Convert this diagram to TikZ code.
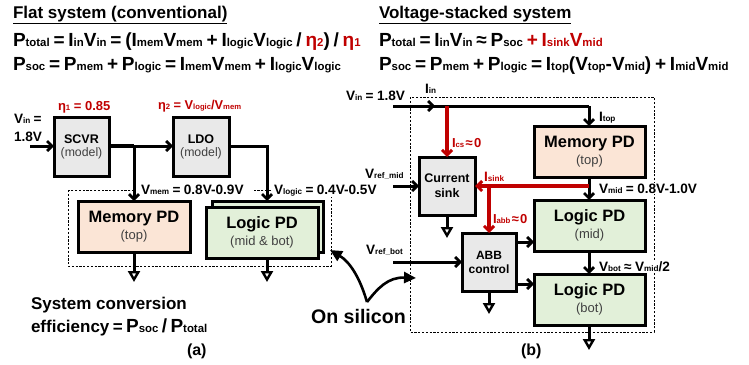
\documentclass[tikz,border=0pt]{standalone}
\usepackage{fontspec}
\setmainfont{Liberation Sans}
\usetikzlibrary{arrows.meta,calc}
\definecolor{rd}{HTML}{C00000}
\definecolor{gbox}{HTML}{E9E9E9}
\definecolor{pbox}{HTML}{FBE5D6}
\definecolor{lbox}{HTML}{E2F0D9}
\definecolor{sub}{HTML}{404040}
\makeatletter
\newcommand\ssb[1]{{\fontsize{\strip@pt\dimexpr0.6\dimexpr\f@size pt\relax\relax}{1}\selectfont #1}}
\makeatother
\newcommand\fs[1]{\fontsize{#1}{#1}\selectfont}
\newcommand\eqf{\bfseries\fs{19}\spaceskip=.2em\relax}
\newcommand\lbf{\bfseries\fs{13.6}\spaceskip=.25em\relax}
\newcommand\rlbf{\bfseries\fs{13}\spaceskip=.1em\relax}
\newcommand\sysf{\bfseries\fs{17}\spaceskip=.2em\relax}
\tikzset{
  x=1pt,y=-1pt,
  txt/.style={anchor=base west,inner sep=0pt,outer sep=0pt,font=\bfseries},
  wtxt/.style={txt,fill=white,inner xsep=2pt,inner ysep=1pt},
  box/.style={draw=black,line width=3pt,inner sep=0pt,outer sep=0pt,align=center},
  wire/.style={line width=3pt,draw=black},
  tip/.style={-{Straight Barb[length=5pt,width=10pt,line width=2.8pt]}},
  rwire/.style={line width=3.2pt,draw=rd},
  rtip/.style={-{Straight Barb[length=5pt,width=10pt,line width=3pt]}},
  gnd/.style={line width=3pt,draw=black,-{Triangle[open,length=11pt,width=12pt,line width=2.4pt]}},
  dash box/.style={draw=black,line width=1pt,dash pattern=on 2.2pt off 1.6pt},
}
\newcommand\boxlab[2]{{\bfseries\fs{#2}#1}}
\newcommand\sublab[2]{{\fs{#2}\color{sub}#1}}
\begin{document}
\begin{tikzpicture}
\useasboundingbox (0,0) rectangle (749,364);
% dashed regions
\draw[dash box] (68,190) rectangle (331,266);
\draw[dash box] (410,97) rectangle (654,332);
% labels that interrupt the dashed regions
\node[wtxt,font=\lbf,inner xsep=8pt] (la5) at (133,194) {V\ssb{mem} = 0.8V-0.9V};
\node[wtxt,font=\lbf] (la6) at (272,194) {V\ssb{logic} = 0.4V-0.5V};
\node[wtxt,font=\lbf] (lb9) at (597,193) {V\ssb{mid} = 0.8V-1.0V};
\node[wtxt,font=\lbf] (lb10) at (597,271) {V\ssb{bot} ≈ V\ssb{mid}/2};
% headings
\node[txt,font=\bfseries\fs{17}] (t1) at (13,18) {\underline{Flat system (conventional)}};
\node[txt,font=\bfseries\fs{17}] (t2) at (379,18) {\underline{Voltage-stacked system}};
\node[txt,font=\eqf] (e1) at (13,46) {P\ssb{total} = I\ssb{in}V\ssb{in} = (I\ssb{mem}V\ssb{mem} + I\ssb{logic}V\ssb{logic} / \textcolor{rd}{η\ssb{2}}) / \textcolor{rd}{η\ssb{1}}};
\node[txt,font=\eqf] (e2) at (13,70) {P\ssb{soc} = P\ssb{mem} + P\ssb{logic} = I\ssb{mem}V\ssb{mem} + I\ssb{logic}V\ssb{logic}};
\node[txt,font=\eqf] (e3) at (379,46) {P\ssb{total} = I\ssb{in}V\ssb{in} ≈ P\ssb{soc} \textcolor{rd}{+ I\ssb{sink}V\ssb{mid}}};
\node[txt,font=\eqf] (e4) at (379,70) {P\ssb{soc} = P\ssb{mem} + P\ssb{logic} = I\ssb{top}(V\ssb{top}-V\ssb{mid}) + I\ssb{mid}V\ssb{mid}};
% (a) boxes
\node[box,fill=gbox,minimum width=55pt,minimum height=59pt] (scvr) at (81.5,146.5) {\boxlab{SCVR}{12.5}\\[1pt]\sublab{(model)}{12.3}};
\node[box,fill=gbox,minimum width=56pt,minimum height=59pt] (ldo) at (201,146.5) {\boxlab{LDO}{12.5}\\[1pt]\sublab{(model)}{12.3}};
\node[box,fill=pbox,minimum width=112pt,minimum height=51pt] (mema) at (134,226.5) {\boxlab{Memory PD}{16.5}\\[3pt]\sublab{(top)}{13}};
\node[box,fill=lbox,minimum width=111pt,minimum height=51pt] (logb) at (267.5,226.5) {};
\node[box,fill=lbox,minimum width=112pt,minimum height=51pt] (logf) at (262,232.5) {\boxlab{Logic PD}{16.5}\\[3pt]\sublab{(mid \& bot)}{13}};
% (a) wires
\coordinate (vina) at (30,146);
\coordinate (j1) at (134,146);
\coordinate (j2) at (267,146);
\coordinate (ga1) at (134,282);
\coordinate (ga2) at (267,282);
\coordinate (logtop) at (267,201);
\draw[wire,tip] (vina) -- (scvr.west |- vina);
\draw[line width=3.8pt] (scvr.east |- j1) -- (j1);
\draw[wire,tip] (j1) -- (ldo.west |- j1);
\draw[wire,tip] (j1) -- (mema.north);
\draw[wire,tip] (ldo.east |- j2) -- (j2) -- (logtop);
\draw[gnd] (mema.south) -- (ga1);
\draw[gnd] (logf.south -| ga2) -- (ga2);
% (a) labels
\node[txt,font=\bfseries\fs{13},text=rd] (la1) at (58,110) {η\ssb{1} = 0.85};
\node[txt,font=\bfseries\fs{12.8},text=rd] (la2) at (158,109) {η\ssb{2} = V\ssb{logic}/V\ssb{mem}};
\node[txt,font=\lbf] (la3) at (14,123) {V\ssb{in} =};
\node[txt,font=\lbf] (la4) at (14,141) {1.8V};
\node[txt,font=\bfseries\fs{17}] (la7) at (31,309) {System conversion};
\node[txt,font=\sysf] (la8) at (31,332) {efficiency = {\fs{19}P\ssb{soc} / P\ssb{total}}};
\node[txt,font=\bfseries\fs{16}] (la9) at (187,355) {(a)};
% (b) boxes
\node[box,fill=pbox,minimum width=111pt,minimum height=51pt] (memb) at (589.5,151.5) {\boxlab{Memory PD}{16.5}\\[3pt]\sublab{(top)}{13}};
\node[box,fill=lbox,minimum width=111pt,minimum height=51pt] (logm) at (589.5,225.5) {\boxlab{Logic PD}{16.5}\\[3pt]\sublab{(mid)}{13}};
\node[box,fill=lbox,minimum width=111pt,minimum height=51pt] (logo) at (589.5,299.5) {\boxlab{Logic PD}{16.5}\\[3pt]\sublab{(bot)}{13}};
\node[box,fill=gbox,minimum width=56pt,minimum height=58pt] (cs) at (447,186) {\boxlab{Current}{12.5}\\[3pt]\boxlab{sink}{12.5}};
\node[box,fill=gbox,minimum width=54pt,minimum height=58pt] (abb) at (489,262) {\boxlab{ABB}{12}\\[2pt]\boxlab{control}{12}};
% (b) wires
\coordinate (vinb) at (393,106);
\coordinate (vinm) at (435,106);
\coordinate (jin) at (447,106);
\coordinate (jt) at (589,106);
\coordinate (vrm) at (393,186);
\coordinate (vrb) at (393,262);
\coordinate (jmid) at (589,186);
\coordinate (jabb) at (489,186);
\coordinate (abbm) at (516,242);
\coordinate (abbo) at (516,284);
\coordinate (gb1) at (447,238);
\coordinate (gb2) at (489,314);
\coordinate (gb3) at (589,350);
\draw[wire] (vinb) -- (jt);
\draw[wire,tip] (vinb) -- (vinm);
\draw[wire,tip] (jt) -- (memb.north -| jt);
\draw[wire,tip] (memb.south -| jt) -- (logm.north -| jt);
\draw[wire,tip] (logm.south -| jt) -- (logo.north -| jt);
\draw[rwire,rtip] (jin) -- (cs.north -| jin);
\draw[rwire,rtip] (jmid) -- (cs.east |- jmid);
\draw[rwire,rtip] (jabb) -- (abb.north -| jabb);
\draw[wire,tip] (vrm) -- (cs.west |- vrm);
\draw[wire,tip] (vrb) -- (abb.west |- vrb);
\draw[wire,tip] (abbm) -- (logm.west |- abbm);
\draw[wire,tip] (abbo) -- (logo.west |- abbo);
\draw[gnd] (cs.south) -- (gb1);
\draw[gnd] (abb.south -| gb2) -- (gb2);
\draw[gnd] (logo.south -| gb3) -- (gb3);
% (b) labels
\node[txt,font=\lbf] (lb1) at (346,100) {V\ssb{in} = 1.8V};
\node[txt,font=\lbf] (lb2) at (425,93) {I\ssb{in}};
\node[txt,font=\lbf] (lb3) at (599,121) {I\ssb{top}};
\node[txt,font=\rlbf,text=rd] (lb4) at (452,147) {I\ssb{cs} ≈ 0};
\node[txt,font=\lbf,text=rd] (lb5) at (484,181) {I\ssb{sink}};
\node[txt,font=\rlbf,text=rd] (lb6) at (493,223) {I\ssb{abb} ≈ 0};
\node[txt,font=\lbf] (lb7) at (365,178) {V\ssb{ref\_mid}};
\node[txt,font=\lbf] (lb8) at (366,254) {V\ssb{ref\_bot}};
\node[txt,font=\bfseries\fs{16}] (lb11) at (521,355) {(b)};
% On silicon
\node[txt,font=\bfseries\fs{19.6}] (on) at (311,323) {On silicon};
\coordinate (apex) at (367,302);
\coordinate (tl) at (330,250);
\coordinate (tr) at (416,278);
\draw[line width=2.6pt,-{Triangle[length=12pt,width=11pt]}] (apex) .. controls (360,278) and (350,262) .. (tl);
\draw[line width=2.6pt,-{Triangle[length=12pt,width=11pt]}] (apex) .. controls (378,288) and (388,277) .. (tr);
\end{tikzpicture}
\end{document}
